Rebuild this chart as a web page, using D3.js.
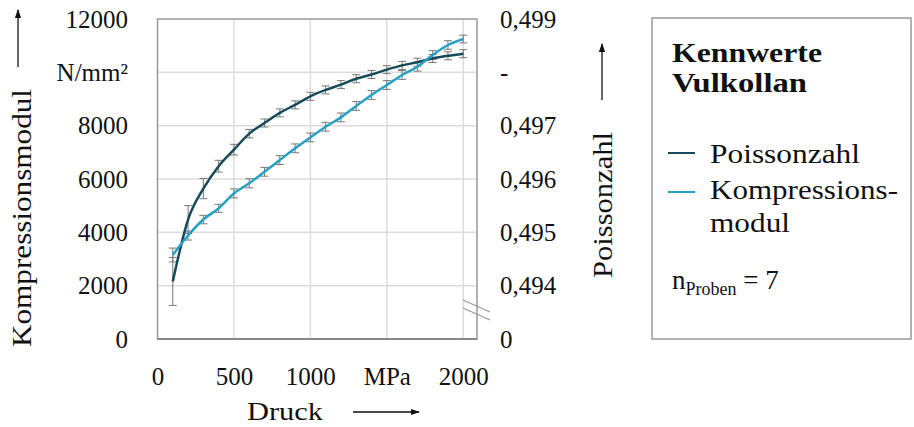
<!DOCTYPE html>
<html>
<head>
<meta charset="utf-8">
<script src="https://cdn.jsdelivr.net/npm/d3@7"></script>
<style>
html,body{margin:0;padding:0;background:#fff;}
svg{display:block;font-family:"Liberation Serif","DejaVu Serif",serif;}
</style>
</head>
<body>
<svg id="chart" width="914" height="427"></svg>
<script>
// ---- data ----
const pressure = [100,200,300,400,500,600,700,800,900,1000,1100,1200,1300,1400,1500,1600,1700,1800,1900,2000];
const poisson = [0.49408,0.49524,0.49582,0.49624,0.49655,0.49685,0.49705,0.49724,0.49739,0.49755,0.49767,0.49777,0.49788,0.49796,0.49805,0.49813,0.49819,0.49826,0.49831,0.49835];
const poissonErr = [0.00045,0.00026,0.00019,0.00011,0.0001,0.00008,0.000075,0.000075,0.000075,0.000075,0.000075,0.000075,0.000075,0.000075,0.000075,0.000075,0.000075,0.000075,0.000075,0.000075];
const kompression = [3150,3880,4480,4900,5460,5840,6270,6710,7150,7560,7960,8310,8740,9150,9525,9900,10210,10650,11025,11250];
const kompressionErr = [260,170,160,150,170,170,165,165,165,165,165,165,165,165,165,165,165,165,160,145];
const xTicks = [0,500,1000,1500,2000];
const xTickLabels = ["0","500","1000","MPa","2000"];
const yLeftTicks = [0,2000,4000,6000,8000,10000,12000];
const yLeftTickLabels = ["0","2000","4000","6000","8000","N/mm²","12000"];
const yRightTicks = [0.493,0.494,0.495,0.496,0.497,0.498,0.499];
const yRightTickLabels = ["0","0,494","0,495","0,496","0,497","-","0,499"];
const seriesNames = ["Poissonzahl","Kompressions-","modul"];

const cPoisson = "#164a5b";
const cKomp = "#25a0c2";

const svg = d3.select("#chart");
const L = 157.5, R = 477, T = 19, B = 339;

const x = d3.scaleLinear().domain([0,2090]).range([L,R]);
const yK = d3.scaleLinear().domain([0,12000]).range([B,T]);
const yP = d3.scaleLinear().domain([0.493,0.499]).range([B,T]);

// grid
const grid = svg.append("g");
grid.selectAll("line.v").data(xTicks.slice(1)).join("line")
  .attr("x1",d=>x(d)).attr("x2",d=>x(d)).attr("y1",T).attr("y2",B)
  .attr("stroke","#dcdcdc").attr("stroke-width",1.5);
grid.selectAll("line.h").data(yLeftTicks.slice(1,-1)).join("line")
  .attr("x1",L).attr("x2",R).attr("y1",d=>yK(d)).attr("y2",d=>yK(d))
  .attr("stroke","#dcdcdc").attr("stroke-width",1.5);

// frame
svg.append("rect").attr("x",L).attr("y",T).attr("width",R-L).attr("height",B-T)
  .attr("fill","none").attr("stroke","#999").attr("stroke-width",1.5);
svg.append("line").attr("x1",L).attr("x2",R).attr("y1",B).attr("y2",B)
  .attr("stroke","#888").attr("stroke-width",2);

// axis break marks
const brk = svg.append("g").attr("stroke","#999").attr("stroke-width",1.2);
brk.append("line").attr("x1",463).attr("y1",300).attr("x2",490).attr("y2",312);
brk.append("line").attr("x1",463).attr("y1",308).attr("x2",490).attr("y2",320);

// error bars
function errorBars(vals, errs, scale) {
  const g = svg.append("g").attr("stroke","#777").attr("stroke-width",1);
  pressure.forEach((p,i)=>{
    const cx = x(p), y1 = scale(vals[i]-errs[i]), y2 = scale(vals[i]+errs[i]);
    g.append("line").attr("x1",cx).attr("x2",cx).attr("y1",y1).attr("y2",y2);
    g.append("line").attr("x1",cx-4).attr("x2",cx+4).attr("y1",y1).attr("y2",y1);
    g.append("line").attr("x1",cx-4).attr("x2",cx+4).attr("y1",y2).attr("y2",y2);
  });
}
errorBars(poisson, poissonErr, yP);
errorBars(kompression, kompressionErr, yK);

// lines
const lineP = d3.line().x((d,i)=>x(pressure[i])).y(d=>yP(d)).curve(d3.curveMonotoneX);
const lineK = d3.line().x((d,i)=>x(pressure[i])).y(d=>yK(d)).curve(d3.curveMonotoneX);
svg.append("path").attr("d",lineP(poisson)).attr("fill","none").attr("stroke",cPoisson).attr("stroke-width",2.5);
svg.append("path").attr("d",lineK(kompression)).attr("fill","none").attr("stroke",cKomp).attr("stroke-width",2.5);

// axes (labels only)
const fs = 25;
const axL = d3.axisLeft(yK).tickValues(yLeftTicks).tickFormat((d,i)=>yLeftTickLabels[i]).tickSize(0).tickPadding(0);
const gL = svg.append("g").attr("transform","translate(128,0)").call(axL);
gL.select(".domain").remove();
gL.selectAll("text").attr("font-size",fs).attr("font-family","Liberation Serif").attr("fill","#111");

const axR = d3.axisRight(yP).tickValues(yRightTicks).tickFormat((d,i)=>yRightTickLabels[i]).tickSize(0).tickPadding(0);
const gR = svg.append("g").attr("transform","translate(500,0)").call(axR);
gR.select(".domain").remove();
gR.selectAll("text").attr("font-size",fs).attr("font-family","Liberation Serif").attr("fill","#111");

const axB = d3.axisBottom(x).tickValues(xTicks).tickFormat((d,i)=>xTickLabels[i]).tickSize(0).tickPadding(0);
const gB = svg.append("g").attr("transform","translate(0,385)").call(axB);
gB.select(".domain").remove();
gB.selectAll("text").attr("y",0).attr("dy",0).attr("font-size",fs).attr("font-family","Liberation Serif").attr("fill","#111");

// arrow marker
svg.append("defs").append("marker").attr("id","arr").attr("viewBox","0 0 10 10")
  .attr("refX",9).attr("refY",5).attr("markerWidth",7).attr("markerHeight",7).attr("orient","auto")
  .append("path").attr("d","M0,1.5 L10,5 L0,8.5 Z").attr("fill","#111");

function stretched(sel, len) {
  return sel.attr("textLength",len).attr("lengthAdjust","spacingAndGlyphs");
}

// axis titles
stretched(svg.append("text").attr("transform","translate(31,218) rotate(-90)").attr("text-anchor","middle")
  .attr("font-size",27).attr("fill","#111").text("Kompressionsmodul"), 258);
svg.append("line").attr("x1",18).attr("x2",18).attr("y1",67).attr("y2",10)
  .attr("stroke","#111").attr("stroke-width",1.3).attr("marker-end","url(#arr)");

stretched(svg.append("text").attr("transform","translate(612,205) rotate(-90)").attr("text-anchor","middle")
  .attr("font-size",27).attr("fill","#111").text("Poissonzahl"), 146);
svg.append("line").attr("x1",602).attr("x2",602).attr("y1",100).attr("y2",44)
  .attr("stroke","#111").attr("stroke-width",1.3).attr("marker-end","url(#arr)");

stretched(svg.append("text").attr("x",285).attr("y",420).attr("text-anchor","middle")
  .attr("font-size",26).attr("fill","#111").text("Druck"), 76);
svg.append("line").attr("x1",353).attr("x2",419).attr("y1",412).attr("y2",412)
  .attr("stroke","#111").attr("stroke-width",1.3).attr("marker-end","url(#arr)");

// legend box
svg.append("rect").attr("x",652).attr("y",18).attr("width",259).attr("height",321)
  .attr("fill","none").attr("stroke","#999").attr("stroke-width",1.5);
stretched(svg.append("text").attr("x",672).attr("y",62).attr("font-size",27).attr("font-weight","bold").attr("fill","#111").text("Kennwerte"), 150);
stretched(svg.append("text").attr("x",672).attr("y",92).attr("font-size",27).attr("font-weight","bold").attr("fill","#111").text("Vulkollan"), 135);

svg.append("line").attr("x1",668).attr("x2",695).attr("y1",153).attr("y2",153).attr("stroke",cPoisson).attr("stroke-width",2);
stretched(svg.append("text").attr("x",710).attr("y",163).attr("font-size",27).attr("fill","#111").text(seriesNames[0]), 150);
svg.append("line").attr("x1",668).attr("x2",695).attr("y1",192).attr("y2",192).attr("stroke",cKomp).attr("stroke-width",2);
stretched(svg.append("text").attr("x",710).attr("y",199).attr("font-size",27).attr("fill","#111").text(seriesNames[1]), 188);
stretched(svg.append("text").attr("x",710).attr("y",232).attr("font-size",27).attr("fill","#111").text(seriesNames[2]), 80);

const nt = svg.append("text").attr("x",672).attr("y",289).attr("font-size",27).attr("fill","#111");
nt.append("tspan").text("n");
nt.append("tspan").attr("font-size",18).attr("dy",6).text("Proben");
nt.append("tspan").attr("dy",-6).text(" = 7");
</script>
</body>
</html>
